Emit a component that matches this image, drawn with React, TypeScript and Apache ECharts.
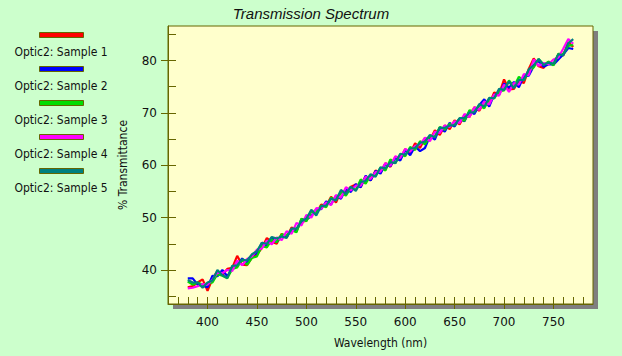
import React, { useEffect, useRef } from "react";
import * as echarts from "echarts";

const wavelengths = [
  380, 385, 390, 395, 400, 405, 410, 415, 420, 425,
  430, 435, 440, 445, 450, 455, 460, 465, 470, 475,
  480, 485, 490, 495, 500, 505, 510, 515, 520, 525,
  530, 535, 540, 545, 550, 555, 560, 565, 570, 575,
  580, 585, 590, 595, 600, 605, 610, 615, 620, 625,
  630, 635, 640, 645, 650, 655, 660, 665, 670, 675,
  680, 685, 690, 695, 700, 705, 710, 715, 720, 725,
  730, 735, 740, 745, 750, 755, 760, 765, 770,
];

const sample1 = [
  36.7, 36.9, 37.6, 38.2, 36.0, 38.3, 39.8, 39.0, 40.2, 40.4,
  42.7, 41.0, 40.9, 42.4, 43.0, 44.2, 46.1, 45.4, 45.0, 46.9,
  46.2, 48.1, 47.7, 49.2, 49.4, 51.3, 50.8, 52.5, 52.2, 54.0,
  52.9, 55.0, 54.8, 55.9, 56.3, 55.9, 57.9, 57.1, 59.0, 58.6,
  60.4, 59.7, 61.6, 61.2, 63.1, 62.3, 64.2, 63.3, 65.2, 64.8,
  66.7, 65.8, 67.6, 66.9, 68.6, 67.8, 69.6, 69.2, 71.1, 70.4,
  72.2, 71.6, 73.9, 73.6, 76.4, 74.5, 74.6, 76.2, 75.7, 78.4,
  80.4, 78.9, 78.6, 79.8, 79.2, 81.2, 81.0, 83.5, 82.6,
];
const sample2 = [
  38.4, 38.4, 37.2, 37.0, 36.7, 38.9, 38.8, 40.0, 38.8, 40.3,
  40.7, 42.2, 41.3, 42.8, 43.2, 45.2, 44.6, 46.2, 45.3, 46.6,
  46.3, 47.7, 47.4, 49.7, 49.6, 50.3, 51.6, 51.6, 53.1, 52.5,
  54.2, 53.6, 55.5, 54.9, 56.4, 55.8, 58.0, 57.1, 58.9, 58.4,
  60.3, 59.8, 61.4, 60.9, 62.9, 61.9, 63.6, 62.7, 63.3, 65.6,
  64.9, 67.2, 66.4, 68.1, 67.4, 68.9, 68.4, 70.3, 69.8, 71.5,
  72.6, 71.2, 73.5, 73.5, 75.6, 74.8, 75.9, 74.9, 77.0, 77.1,
  78.9, 79.9, 78.8, 79.3, 79.2, 80.2, 81.2, 82.4, 82.2,
];
const sample3 = [
  37.8, 37.2, 37.6, 37.2, 37.4, 37.6, 39.2, 38.9, 38.4, 40.2,
  40.5, 42.0, 41.0, 42.3, 42.6, 44.6, 44.3, 45.8, 45.3, 46.8,
  46.6, 47.6, 47.2, 49.8, 49.3, 51.2, 50.9, 52.3, 52.0, 53.8,
  53.3, 54.8, 54.2, 55.7, 55.3, 57.3, 56.5, 58.1, 58.0, 59.5,
  59.0, 61.1, 60.4, 62.1, 61.7, 63.5, 62.9, 64.6, 64.0, 65.6,
  65.5, 67.3, 66.8, 67.9, 67.7, 68.9, 68.5, 70.5, 70.3, 71.4,
  70.9, 72.6, 72.8, 74.1, 74.3, 76.2, 75.0, 76.9, 76.2, 78.0,
  78.7, 80.3, 79.2, 79.8, 79.1, 81.3, 81.3, 82.8, 83.0,
];
const sample4 = [
  36.5, 36.6, 36.9, 37.3, 37.2, 38.2, 39.5, 39.4, 40.0, 39.8,
  41.8, 40.9, 42.1, 42.6, 43.9, 44.1, 45.6, 44.9, 46.2, 45.7,
  47.4, 46.9, 49.0, 48.5, 50.5, 50.0, 51.8, 51.7, 52.9, 52.4,
  54.3, 53.8, 55.8, 55.2, 56.1, 56.1, 57.8, 57.4, 58.7, 58.8,
  60.4, 59.9, 61.7, 61.4, 63.1, 62.6, 63.7, 63.9, 65.3, 64.6,
  66.4, 66.2, 67.6, 67.3, 68.4, 68.1, 69.8, 69.2, 71.1, 70.6,
  72.2, 71.6, 73.5, 73.3, 75.4, 74.0, 75.7, 75.4, 77.4, 77.2,
  80.2, 79.0, 79.5, 79.3, 80.2, 80.6, 82.3, 84.1, 83.2,
];
const sample5 = [
  38.1, 37.6, 37.6, 36.6, 37.6, 38.0, 40.0, 39.0, 38.5, 40.8,
  40.9, 42.0, 41.8, 43.0, 43.6, 45.2, 45.0, 46.3, 46.0, 46.4,
  46.1, 47.9, 47.9, 49.3, 49.8, 51.5, 50.4, 52.2, 52.3, 53.6,
  53.3, 55.3, 54.5, 55.9, 55.1, 56.8, 57.0, 58.3, 57.8, 59.6,
  59.4, 60.6, 60.4, 62.2, 62.0, 63.2, 63.3, 64.3, 64.5, 65.8,
  65.3, 67.2, 67.1, 67.6, 67.6, 69.0, 69.0, 70.1, 70.1, 71.7,
  71.2, 72.9, 72.8, 74.6, 74.4, 76.0, 74.7, 76.3, 76.3, 78.3,
  79.1, 80.3, 79.2, 79.6, 79.4, 81.2, 81.0, 83.3, 84.1,
];

const seriesNames = [
  "Optic2: Sample 1",
  "Optic2: Sample 2",
  "Optic2: Sample 3",
  "Optic2: Sample 4",
  "Optic2: Sample 5",
];
const seriesValues = [sample1, sample2, sample3, sample4, sample5];
const seriesColors = ["#ff0000", "#0000ff", "#00dd00", "#ff00ff", "#008080"];

const xMajorTicks = [400, 450, 500, 550, 600, 650, 700, 750];
const xMinorTicks = [
  370, 380, 390, 400, 410, 420, 430, 440, 450, 460, 470, 480, 490, 500,
  510, 520, 530, 540, 550, 560, 570, 580, 590, 600, 610, 620, 630, 640,
  650, 660, 670, 680, 690, 700, 710, 720, 730, 740, 750, 760, 770, 780,
];
const yMajorTicks = [40, 50, 60, 70, 80];
const yMinorTicks = [35, 40, 45, 50, 55, 60, 65, 70, 75, 80, 85];

const X_MIN = 360;
const X_MAX = 790;
const Y_MIN = 33.5;
const Y_MAX = 86.6;

const OLIVE = "#666600";
const TEXT = "#111111";
const TICK_FONT = "DejaVu Sans";
const COND_FONT = "DejaVu Sans Condensed, DejaVu Sans";

export default function App() {
  const ref = useRef<HTMLDivElement>(null);

  useEffect(() => {
    document.body.style.margin = "0";
    if (!ref.current) return;
    const chart = echarts.init(ref.current, undefined, { renderer: "svg" });

    const legendGraphics: any[] = [];
    seriesNames.forEach((name, i) => {
      legendGraphics.push({
        type: "rect",
        shape: { x: 39.5, y: 32.5 + 34 * i, width: 44, height: 5 },
        style: { fill: seriesColors[i], stroke: OLIVE, lineWidth: 1 },
      });
      legendGraphics.push({
        type: "text",
        x: 61,
        y: 51.5 + 34 * i,
        style: {
          text: name,
          fill: TEXT,
          font: `12px ${COND_FONT}`,
          textAlign: "center",
          textVerticalAlign: "middle",
        },
      });
    });

    const option: any = {
      animation: false,
      backgroundColor: "#ccffcc",
      title: {
        text: "Transmission Spectrum",
        left: "center",
        top: 1,
        textStyle: {
          fontFamily: "Liberation Sans, Arial, sans-serif",
          fontStyle: "italic",
          fontWeight: "normal",
          fontSize: 15,
          color: TEXT,
        },
      },
      graphic: [
        {
          type: "rect",
          z: -10,
          shape: { x: 173, y: 31, width: 425, height: 278 },
          style: { fill: "#7f7f7f" },
        },
        ...legendGraphics,
      ],
      grid: {
        left: 168,
        top: 26,
        width: 425,
        height: 278,
        show: true,
        backgroundColor: "#ffffcc",
        borderColor: OLIVE,
        borderWidth: 1,
      },
      xAxis: [
        {
          type: "value",
          min: X_MIN,
          max: X_MAX,
          position: "bottom",
          name: "Wavelength (nm)",
          nameLocation: "middle",
          nameGap: 33,
          nameTextStyle: { fontFamily: COND_FONT, fontSize: 12, color: TEXT },
          axisLine: { show: true, lineStyle: { color: OLIVE, width: 1 } },
          axisTick: {
            show: true,
            inside: false,
            length: 5,
            customValues: xMajorTicks,
            lineStyle: { color: OLIVE },
          },
          axisLabel: {
            customValues: xMajorTicks,
            margin: 12,
            fontFamily: TICK_FONT,
            fontSize: 12,
            color: TEXT,
          },
          splitLine: { show: false },
        },
        {
          type: "value",
          min: X_MIN,
          max: X_MAX,
          position: "bottom",
          axisLine: { show: false },
          axisTick: {
            show: true,
            inside: true,
            length: 7,
            customValues: xMinorTicks,
            lineStyle: { color: OLIVE },
          },
          axisLabel: { show: false },
          splitLine: { show: false },
        },
      ],
      yAxis: [
        {
          type: "value",
          min: Y_MIN,
          max: Y_MAX,
          position: "left",
          name: "% Transmittance",
          nameLocation: "middle",
          nameGap: 39,
          nameTextStyle: { fontFamily: COND_FONT, fontSize: 12, color: TEXT },
          axisLine: { show: true, lineStyle: { color: OLIVE, width: 1 } },
          axisTick: {
            show: true,
            inside: false,
            length: 7,
            customValues: yMajorTicks,
            lineStyle: { color: OLIVE },
          },
          axisLabel: {
            customValues: yMajorTicks,
            margin: 11,
            fontFamily: TICK_FONT,
            fontSize: 12,
            color: TEXT,
          },
          splitLine: { show: false },
        },
        {
          type: "value",
          min: Y_MIN,
          max: Y_MAX,
          position: "left",
          axisLine: { show: false },
          axisTick: {
            show: true,
            inside: true,
            length: 8,
            customValues: yMinorTicks,
            lineStyle: { color: OLIVE },
          },
          axisLabel: { show: false },
          splitLine: { show: false },
        },
      ],
      series: seriesNames.map((name, i) => ({
        name,
        type: "line",
        xAxisIndex: 0,
        yAxisIndex: 0,
        showSymbol: false,
        symbol: "none",
        lineStyle: { color: seriesColors[i], width: 2.2 },
        itemStyle: { color: seriesColors[i] },
        data: wavelengths.map((w, k) => [w, seriesValues[i][k]]),
      })),
    };

    chart.setOption(option);
    return () => chart.dispose();
  }, []);

  return <div ref={ref} style={{ width: 622, height: 356 }} />;
}
